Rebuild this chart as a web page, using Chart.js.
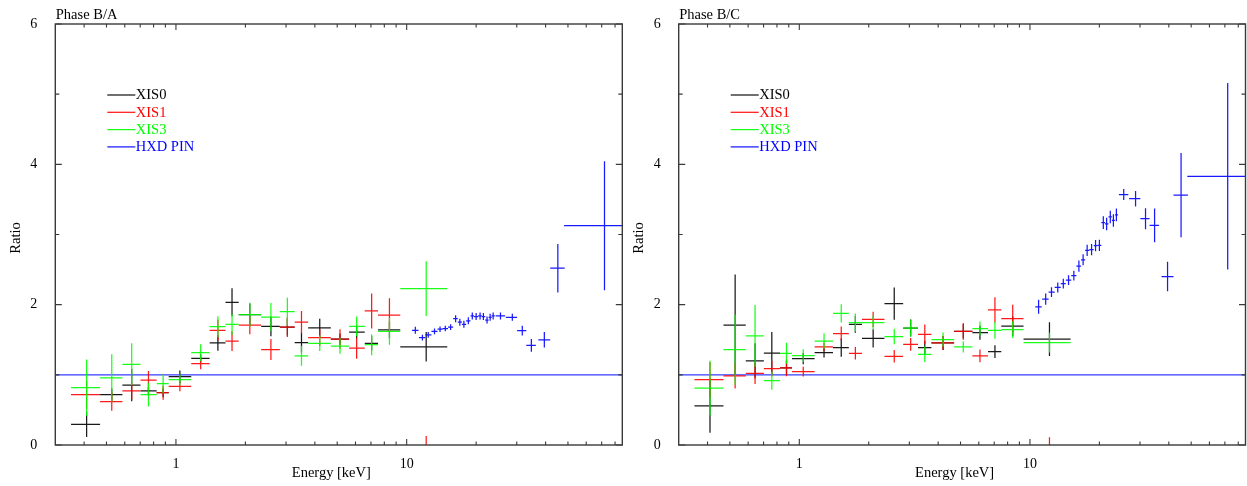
<!DOCTYPE html>
<html>
<head>
<meta charset="utf-8">
<script src="https://cdn.jsdelivr.net/npm/chart.js@4.4.0/dist/chart.umd.min.js"></script>
<style>
  html, body { margin: 0; padding: 0; background: #fff; }
  #wrap { position: relative; width: 1247px; height: 486px; overflow: hidden; }
  canvas { position: absolute; top: 0; }
  #ba { left: 0; }
  #bc { left: 623px; }
</style>
</head>
<body>
<div id="wrap">
  <canvas id="ba" width="623" height="486"></canvas>
  <canvas id="bc" width="624" height="486"></canvas>
</div>
<script>
// ---- XIS energy bins (keV): centre, lower edge, upper edge ----
const xisE   = [0.41, 0.527, 0.643, 0.76, 0.88, 1.04, 1.28, 1.52, 1.75, 2.09, 2.58, 3.04, 3.50, 4.20, 5.14, 6.07, 7.05, 8.42, 12.15];
const xisELo = [0.351, 0.469, 0.586, 0.702, 0.825, 0.93, 1.165, 1.40, 1.64, 1.87, 2.34, 2.82, 3.27, 3.74, 4.69, 5.63, 6.58, 7.51, 9.38];
const xisEHi = [0.469, 0.586, 0.702, 0.825, 0.93, 1.165, 1.40, 1.64, 1.87, 2.34, 2.82, 3.27, 3.74, 4.69, 5.63, 6.58, 7.51, 9.38, 15.0];

// ---- HXD PIN energy bins (keV) ----
const pinE   = [10.9, 11.7, 12.4, 13.2, 13.95, 14.7, 15.5, 16.3, 17.0, 17.7, 18.5, 19.25, 20.0, 20.8, 21.5, 22.3, 23.0, 23.7, 25.5, 28.7, 31.7, 34.7, 39.5, 45.2, 72.0];
const pinELo = [10.55, 11.3, 12.05, 12.8, 13.6, 14.3, 15.1, 15.9, 16.65, 17.35, 18.1, 18.9, 19.6, 20.4, 21.15, 21.9, 22.65, 23.35, 24.3, 26.9, 30.1, 33.0, 37.2, 41.9, 48.1];
const pinEHi = [11.25, 12.05, 12.8, 13.6, 14.3, 15.1, 15.9, 16.65, 17.35, 18.1, 18.9, 19.6, 20.4, 21.15, 21.9, 22.65, 23.35, 24.1, 26.7, 30.1, 33.0, 36.3, 41.9, 48.4, 86.0];

// ---- Phase B/A ratios and 1-sigma errors ----
const xis0BA    = [0.295, 0.717, 0.855, 0.77, 0.745, 0.973, 1.235, 1.454, 2.034, 1.857, 1.69, 1.68, 1.46, 1.67, 1.51, 1.61, 1.45, 1.64, 1.40];
const xis0BAErr = [0.18, 0.09, 0.23, 0.06, 0.06, 0.09, 0.06, 0.11, 0.20, 0.16, 0.14, 0.12, 0.14, 0.13, 0.08, 0.09, 0.10, 0.12, 0.21];
const xis1BA    = [0.717, 0.617, 0.77, 0.926, 0.745, 0.836, 1.16, 1.634, 1.48, 1.71, 1.36, 1.68, 1.75, 1.53, 1.51, 1.38, 1.91, 1.85, -0.30];
const xis1BAErr = [0.20, 0.13, 0.12, 0.13, 0.10, 0.07, 0.08, 0.15, 0.14, 0.13, 0.15, 0.14, 0.16, 0.12, 0.14, 0.15, 0.25, 0.24, 0.43];
const xis3BA    = [0.817, 0.955, 1.15, 0.717, 0.874, 0.93, 1.315, 1.686, 1.72, 1.857, 1.824, 1.90, 1.27, 1.45, 1.41, 1.69, 1.43, 1.62, 2.23];
const xis3BAErr = [0.40, 0.34, 0.30, 0.17, 0.135, 0.08, 0.12, 0.15, 0.15, 0.17, 0.20, 0.20, 0.14, 0.11, 0.11, 0.14, 0.15, 0.19, 0.39];
const pinBA     = [1.634, 1.53, 1.57, 1.62, 1.65, 1.66, 1.68, 1.80, 1.75, 1.72, 1.77, 1.84, 1.83, 1.84, 1.83, 1.78, 1.82, 1.84, 1.84, 1.82, 1.63, 1.42, 1.50, 2.52, 3.125];
const pinBAErr  = [0.05, 0.04, 0.04, 0.04, 0.04, 0.04, 0.04, 0.05, 0.05, 0.05, 0.05, 0.05, 0.05, 0.05, 0.05, 0.05, 0.05, 0.05, 0.05, 0.05, 0.07, 0.09, 0.11, 0.345, 0.92];

// ---- Phase B/C ratios and 1-sigma errors ----
const xis0BC    = [0.556, 1.71, 1.20, 1.31, 1.10, 1.23, 1.317, 1.387, 1.72, 1.52, 2.016, 1.667, 1.387, 1.455, 1.62, 1.60, 1.33, 1.695, 1.51];
const xis0BCErr = [0.38, 0.72, 0.25, 0.30, 0.10, 0.08, 0.07, 0.13, 0.12, 0.13, 0.23, 0.12, 0.10, 0.10, 0.10, 0.10, 0.09, 0.14, 0.24];
const xis1BC    = [0.93, 0.985, 1.02, 1.09, 1.10, 1.046, 1.40, 1.588, 1.307, 1.79, 1.264, 1.435, 1.578, 1.455, 1.62, 1.27, 1.927, 1.80, -0.30];
const xis1BCErr = [0.25, 0.18, 0.15, 0.11, 0.12, 0.07, 0.06, 0.10, 0.09, 0.11, 0.09, 0.09, 0.14, 0.10, 0.12, 0.09, 0.18, 0.20, 0.41];
const xis3BC    = [0.81, 1.36, 1.555, 0.917, 1.307, 1.274, 1.48, 1.876, 1.745, 1.745, 1.545, 1.667, 1.293, 1.503, 1.40, 1.66, 1.635, 1.645, 1.46];
const xis3BCErr = [0.39, 0.50, 0.44, 0.13, 0.15, 0.09, 0.11, 0.13, 0.13, 0.10, 0.11, 0.12, 0.11, 0.10, 0.08, 0.10, 0.12, 0.12, 0.14];
const pinBC     = [1.97, 2.08, 2.18, 2.245, 2.30, 2.35, 2.415, 2.55, 2.64, 2.775, 2.785, 2.84, 2.845, 3.17, 3.15, 3.25, 3.20, 3.28, 3.57, 3.51, 3.225, 3.13, 2.40, 3.56, 3.83];
const pinBCErr  = [0.10, 0.08, 0.07, 0.07, 0.07, 0.07, 0.07, 0.08, 0.08, 0.08, 0.08, 0.08, 0.08, 0.09, 0.09, 0.09, 0.09, 0.09, 0.08, 0.11, 0.15, 0.24, 0.21, 0.60, 1.33];

// ---- axes ----
const xRange = [0.3, 86];
const yRange = [0, 6];
const xLabelTicks = [1, 10];
const xMinorTicks = [0.4, 0.5, 0.6, 0.7, 0.8, 0.9, 2, 3, 4, 5, 6, 7, 8, 9, 20, 30, 40, 50, 60, 70, 80];
const yLabelTicks = [0, 2, 4, 6];
const yMinorTicks = [1, 3, 5];
const unityLevel = 1;

const FONT = '"Liberation Serif", "Times New Roman", serif';
const COLORS = { xis0: '#000000', xis1: '#ff0000', xis3: '#00ff00', pin: '#0000ff' };
const FRAME = '#3a3a3a';

function crosses(e, lo, hi, val, err) {
  return val.map((v, i) => ({ x: e[i], y: v, xMin: lo[i], xMax: hi[i], yMin: v - err[i], yMax: v + err[i] }));
}

// Cross-shaped error bars (energy bin width and ratio error) for each point
const errorBarPlugin = {
  id: 'errorBars',
  afterDatasetsDraw(chart) {
    const { ctx, chartArea: a, scales: { x, y } } = chart;
    ctx.save();
    ctx.beginPath();
    ctx.rect(a.left, a.top, a.right - a.left, a.bottom - a.top);
    ctx.clip();
    chart.data.datasets.forEach(ds => {
      if (!ds.errorBars) return;
      ctx.strokeStyle = ds.borderColor;
      ctx.lineWidth = 1.25;
      ctx.globalAlpha = 0.9;
      ds.data.forEach(p => {
        const px = x.getPixelForValue(p.x), py = y.getPixelForValue(p.y);
        ctx.beginPath();
        ctx.moveTo(x.getPixelForValue(p.xMin), py);
        ctx.lineTo(x.getPixelForValue(p.xMax), py);
        ctx.moveTo(px, y.getPixelForValue(p.yMin));
        ctx.lineTo(px, y.getPixelForValue(p.yMax));
        ctx.stroke();
      });
    });
    ctx.restore();
  }
};

// Box frame with inward ticks on all sides, panel title, axis titles and key
const framePlugin = {
  id: 'panelFrame',
  afterDraw(chart, args, opts) {
    const { ctx, chartArea: a, scales: { x, y } } = chart;
    ctx.save();
    ctx.strokeStyle = FRAME;
    ctx.lineWidth = 1.4;
    ctx.strokeRect(a.left, a.top, a.right - a.left, a.bottom - a.top);
    ctx.lineWidth = 1.1;
    ctx.beginPath();
    const xt = (v, len) => {
      const px = x.getPixelForValue(v);
      ctx.moveTo(px, a.bottom); ctx.lineTo(px, a.bottom - len);
      ctx.moveTo(px, a.top); ctx.lineTo(px, a.top + len);
    };
    const yt = (v, len) => {
      const py = y.getPixelForValue(v);
      ctx.moveTo(a.left, py); ctx.lineTo(a.left + len, py);
      ctx.moveTo(a.right, py); ctx.lineTo(a.right - len, py);
    };
    xLabelTicks.forEach(v => xt(v, 6));
    xMinorTicks.forEach(v => xt(v, 3.5));
    yLabelTicks.forEach(v => yt(v, 6.5));
    yMinorTicks.forEach(v => yt(v, 4));
    ctx.stroke();

    ctx.fillStyle = '#000';
    ctx.font = '14.5px ' + FONT;
    ctx.textAlign = 'left';
    ctx.textBaseline = 'alphabetic';
    ctx.fillText(opts.title, a.left + 0.5, 18.5);

    ctx.textAlign = 'center';
    ctx.textBaseline = 'middle';
    ctx.fillText('Energy [keV]', (a.left + a.right) / 2 - 7.5, a.bottom + 28);
    ctx.save();
    ctx.translate(a.left - 39.5, (a.top + a.bottom) / 2 + 3.5);
    ctx.rotate(-Math.PI / 2);
    ctx.fillText('Ratio', 0, 0);
    ctx.restore();

    // key
    const keyX = a.left + 52, keyLen = 28;
    chart.data.datasets.filter(d => d.errorBars).forEach((d, i) => {
      const ky = a.top + 71 + i * 17.3;
      ctx.strokeStyle = d.borderColor;
      ctx.globalAlpha = 0.9;
      ctx.lineWidth = 1.25;
      ctx.beginPath();
      ctx.moveTo(keyX, ky); ctx.lineTo(keyX + keyLen, ky);
      ctx.stroke();
      ctx.globalAlpha = 1;
      ctx.fillStyle = d.borderColor;
      ctx.textAlign = 'left';
      ctx.fillText(d.label, keyX + keyLen + 0.5, ky + 0.5);
    });
    ctx.restore();
  }
};

function panel(id, title, axisWidth, rightPad, sets) {
  return new Chart(document.getElementById(id), {
    type: 'scatter',
    data: {
      datasets: [
        {
          type: 'line',
          data: [{ x: xRange[0], y: unityLevel }, { x: xRange[1], y: unityLevel }],
          borderColor: 'rgba(30,40,255,0.9)', borderWidth: 1.3, pointRadius: 0, errorBars: false
        },
        ...sets.map(s => ({
          label: s.label, data: s.data, borderColor: s.color, backgroundColor: s.color,
          pointRadius: 0, showLine: false, errorBars: true
        }))
      ]
    },
    options: {
      responsive: false,
      animation: false,
      events: [],
      layout: { padding: { top: 24, right: rightPad, bottom: 0, left: 0 } },
      plugins: {
        legend: { display: false },
        tooltip: { enabled: false },
        panelFrame: { title }
      },
      scales: {
        x: {
          type: 'logarithmic', min: xRange[0], max: xRange[1],
          grid: { display: false }, border: { display: false },
          afterBuildTicks: s => { s.ticks = xLabelTicks.map(v => ({ value: v })); },
          afterFit: s => { s.height = 41; },
          ticks: {
            padding: 3, color: '#000', autoSkip: false, maxRotation: 0,
            font: { family: FONT, size: 14 }, callback: v => String(v)
          }
        },
        y: {
          type: 'linear', min: yRange[0], max: yRange[1],
          grid: { display: false }, border: { display: false },
          afterBuildTicks: s => { s.ticks = yLabelTicks.map(v => ({ value: v })); },
          afterFit: s => { s.width = axisWidth; },
          ticks: { padding: 10, color: '#000', font: { family: FONT, size: 14 } }
        }
      }
    },
    plugins: [errorBarPlugin, framePlugin]
  });
}

panel('ba', 'Phase B/A', 55.3, 0.7, [
  { label: 'XIS0', color: COLORS.xis0, data: crosses(xisE, xisELo, xisEHi, xis0BA, xis0BAErr) },
  { label: 'XIS1', color: COLORS.xis1, data: crosses(xisE, xisELo, xisEHi, xis1BA, xis1BAErr) },
  { label: 'XIS3', color: COLORS.xis3, data: crosses(xisE, xisELo, xisEHi, xis3BA, xis3BAErr) },
  { label: 'HXD PIN', color: COLORS.pin, data: crosses(pinE, pinELo, pinEHi, pinBA, pinBAErr) }
]);

panel('bc', 'Phase B/C', 55.7, 1.5, [
  { label: 'XIS0', color: COLORS.xis0, data: crosses(xisE, xisELo, xisEHi, xis0BC, xis0BCErr) },
  { label: 'XIS1', color: COLORS.xis1, data: crosses(xisE, xisELo, xisEHi, xis1BC, xis1BCErr) },
  { label: 'XIS3', color: COLORS.xis3, data: crosses(xisE, xisELo, xisEHi, xis3BC, xis3BCErr) },
  { label: 'HXD PIN', color: COLORS.pin, data: crosses(pinE, pinELo, pinEHi, pinBC, pinBCErr) }
]);
</script>
</body>
</html>
